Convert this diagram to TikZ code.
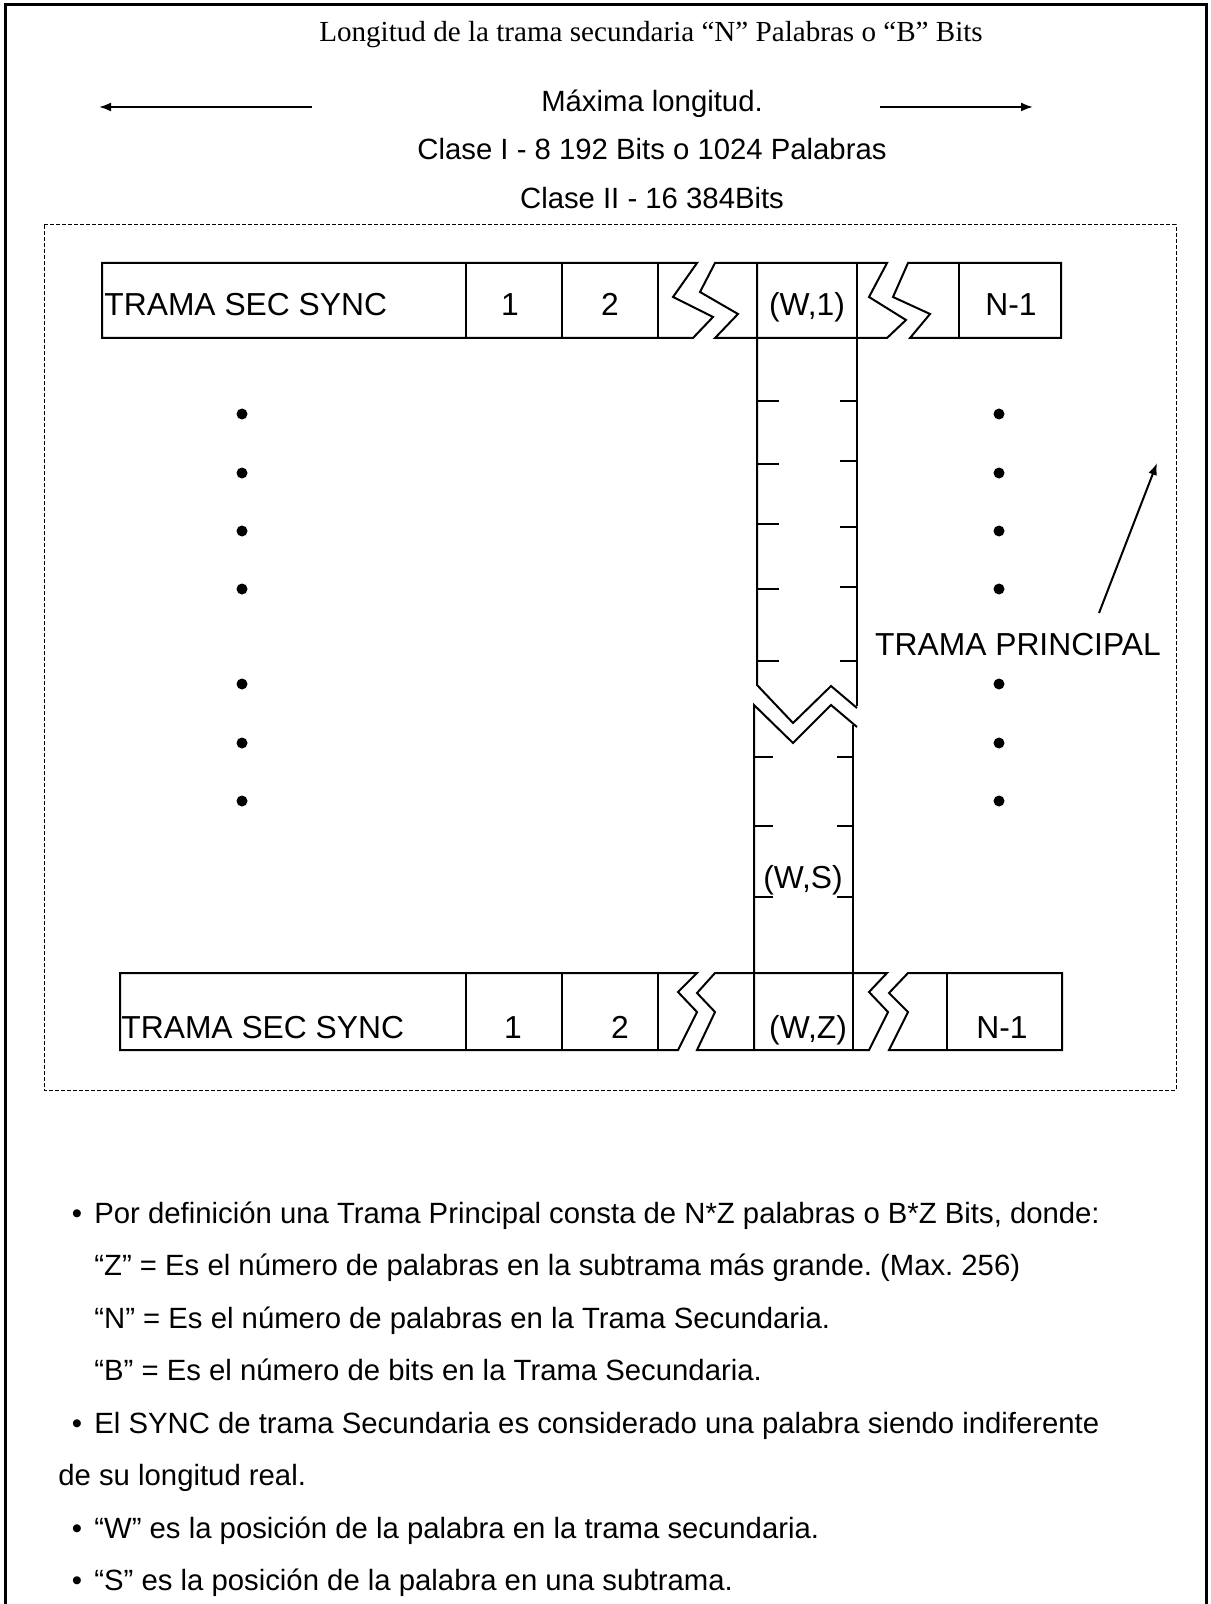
\documentclass[tikz,border=0pt]{standalone}
\usepackage{fontspec}
\setmainfont{Liberation Serif}
\newfontfamily\arial{Liberation Sans}
\usetikzlibrary{arrows.meta}
\frenchspacing
\begin{document}
\begin{tikzpicture}[x=0.5pt,y=-0.5pt,
  frame/.style={line width=1.5pt},
  cell/.style={line width=1pt, line join=miter},
  tick/.style={line width=1pt},
  lbl/.style={font=\arial\fontsize{15.9pt}{18pt}\selectfont, inner sep=0pt, anchor=base},
  lblw/.style={lbl, anchor=base west},
  bodyc/.style={font=\arial\fontsize{14.65pt}{17pt}\selectfont, inner sep=0pt, anchor=base},
  body/.style={bodyc, anchor=base west},
  dotn/.style={circle, fill=black, inner sep=0pt, minimum size=5.5pt},
  arr/.style={line width=1pt, -{Latex[length=6pt,width=4.5pt]}}]
\useasboundingbox (0,0) rectangle (1210,1604);
\fill[white] (0,0) rectangle (1210,1604);
% outer frame
\draw[frame] (5,1604) -- (5,5) -- (1206,5) -- (1206,1604);
% header texts
\node[font=\fontsize{14.55pt}{17pt}\selectfont, inner sep=0pt, anchor=base] (title) at (651,42) {Longitud de la trama secundaria “N” Palabras o “B” Bits};
\node[bodyc] (maxl) at (652,112) {Máxima longitud.};
\node[bodyc] (c1) at (652,160) {Clase I - 8 192 Bits o 1024 Palabras};
\node[bodyc] (c2) at (652,209) {Clase II - 16 384Bits};
\coordinate (la1) at (312,107); \coordinate (la2) at (99,107);
\coordinate (ra1) at (880,107); \coordinate (ra2) at (1033,107);
\draw[arr] (la1) -- (la2);
\draw[arr] (ra1) -- (ra2);
% dashed main frame
\draw[line width=0.5pt, dash pattern=on 2pt off 1pt] (44,225) rectangle (1176,1090);
% top row
\draw[cell] (697,263) -- (102,263) -- (102,338) -- (693,338) -- (713,317) -- (673,297) -- cycle;
\draw[cell] (715,263) -- (887,263) -- (869,297) -- (906,320) -- (887,338) -- (715,338) -- (738,314) -- (700,292) -- cycle;
\draw[cell] (908,263) -- (1061,263) -- (1061,338) -- (910,338) -- (930,314) -- (893,297) -- cycle;
\foreach \x in {466,562,658,959} \draw[cell] (\x,263) -- (\x,338);
\node[lblw] (ts) at (104,316) {TRAMA SEC SYNC};
\node[lbl] (t1) at (510,316) {1};
\node[lbl] (t2) at (610,316) {2};
\node[lbl] (tw) at (807,316) {(W,1)};
\node[lbl] (tn) at (1011,316) {N-1};
% column upper
\draw[cell] (757,263) -- (757,685) -- (793,723) -- (831,686) -- (857,708);
\draw[cell] (857,263) -- (857,706);
\foreach \y in {401,464,524,589,661} \draw[tick] (757,\y) -- (779,\y);
\foreach \y in {401,461,527,587,661} \draw[tick] (840,\y) -- (857,\y);
% column lower
\draw[cell] (754,1050) -- (754,705) -- (793,743) -- (831,705) -- (857,727);
\draw[cell] (853,725) -- (853,1050);
\foreach \y in {757,826,897} {\draw[tick] (754,\y) -- (773,\y); \draw[tick] (837,\y) -- (853,\y);}
\node[lbl] (ws) at (803,888) {(W,S)};
% bottom row
\draw[cell] (697,973) -- (120,973) -- (120,1050) -- (678,1050) -- (697,1012) -- (678,992) -- cycle;
\draw[cell] (715,973) -- (887,973) -- (869,992) -- (888,1012) -- (869,1050) -- (697,1050) -- (715,1012) -- (697,993) -- cycle;
\draw[cell] (908,973) -- (1062,973) -- (1062,1050) -- (889,1050) -- (908,1012) -- (889,993) -- cycle;
\foreach \x in {466,562,658,947} \draw[cell] (\x,973) -- (\x,1050);
\node[lblw] (bs) at (121,1038) {TRAMA SEC SYNC};
\node[lbl] (b1) at (513,1038) {1};
\node[lbl] (b2) at (620,1038) {2};
\node[lbl] (bw) at (808,1038) {(W,Z)};
\node[lbl] (bn) at (1002,1038) {N-1};
% dots
\foreach \y [count=\i] in {414,473,531,589,684,743,801} {
  \node[dotn] (dl\i) at (242,\y) {};
  \node[dotn] (dr\i) at (999,\y) {};
}
% trama principal
\node[lbl] (tp) at (1018,655) {TRAMA PRINCIPAL};
\coordinate (tps) at (1099,613); \coordinate (tpe) at (1157,463);
\draw[arr] (tps) -- (tpe);
% bullet text
\node[bodyc] (bu1) at (77,1223) {•};
\node[body] (l1) at (94,1223) {Por definición una Trama Principal consta de N*Z palabras o B*Z Bits, donde:};
\node[body] (l2) at (94,1275) {“Z” = Es el número de palabras en la subtrama más grande. (Max. 256)};
\node[body] (l3) at (94,1328) {“N” = Es el número de palabras en la Trama Secundaria.};
\node[body] (l4) at (94,1380) {“B” = Es el número de bits en la Trama Secundaria.};
\node[bodyc] (bu2) at (77,1433) {•};
\node[body] (l5) at (94,1433) {El SYNC de trama Secundaria es considerado una palabra siendo indiferente};
\node[body] (l6) at (58,1485) {de su longitud real.};
\node[bodyc] (bu3) at (77,1538) {•};
\node[body] (l7) at (94,1538) {“W” es la posición de la palabra en la trama secundaria.};
\node[bodyc] (bu4) at (77,1590) {•};
\node[body] (l8) at (94,1590) {“S” es la posición de la palabra en una subtrama.};
\end{tikzpicture}
\end{document}
